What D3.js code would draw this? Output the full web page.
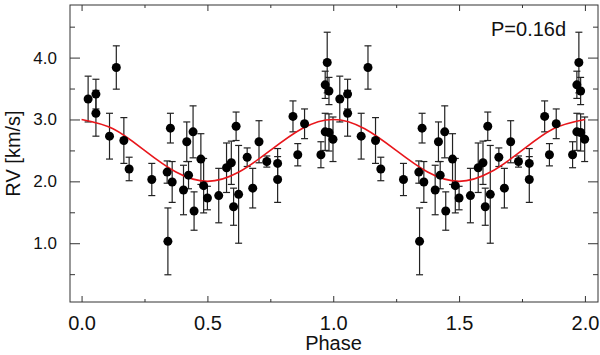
<!DOCTYPE html>
<html>
<head>
<meta charset="utf-8">
<script src="https://cdn.jsdelivr.net/npm/d3@7"></script>
<style>
  body { margin: 0; background: #fff; }
  text { font-family: "Liberation Sans", Arial, Helvetica, sans-serif; fill: #111; }
</style>
</head>
<body>
<svg width="600" height="355"></svg>
<script>

// phased radial velocities (one cycle, plotted twice)
var phase = [0.026, 0.057, 0.057, 0.111, 0.138, 0.168, 0.189, 0.279, 0.340, 0.343,
             0.353, 0.360, 0.405, 0.418, 0.425, 0.443, 0.447, 0.474, 0.485, 0.500,
             0.545, 0.576, 0.595, 0.604, 0.614, 0.624, 0.658, 0.680, 0.705, 0.736,
             0.779, 0.779, 0.840, 0.859, 0.886, 0.951, 0.968, 0.968, 0.976, 0.983,
             0.983, 0.999];
var rv = [3.33, 3.41, 3.10, 2.73, 3.84, 2.66, 2.20, 2.03, 2.15, 1.03,
          2.86, 1.99, 1.86, 2.64, 2.10, 2.80, 1.52, 2.36, 1.93, 1.73,
          1.77, 2.22, 2.30, 1.59, 2.89, 1.79, 2.39, 1.89, 2.64, 2.32,
          2.29, 2.03, 3.05, 2.43, 2.93, 2.43, 3.56, 2.80, 3.92, 3.46,
          2.79, 2.68];
var rvErr = [0.37, 0.24, 0.37, 0.37, 0.35, 0.37, 0.19, 0.26, 0.18, 0.54,
             0.24, 0.33, 0.40, 0.32, 0.22, 0.42, 0.31, 0.41, 0.44, 0.19,
             0.44, 0.40, 0.35, 0.30, 0.23, 0.79, 0.15, 0.32, 0.34, 0.09,
             0.24, 0.37, 0.25, 0.18, 0.24, 0.21, 0.22, 0.30, 0.49, 0.22,
             0.30, 0.36];

// fitted sine curve, read at steps of 0.125 in phase
var fitPhase = [0, 0.125, 0.25, 0.375, 0.5, 0.625, 0.75, 0.875, 1.0,
                1.125, 1.25, 1.375, 1.5, 1.625, 1.75, 1.875, 2.0];
var fitRv = [3.00, 2.85, 2.50, 2.15, 2.00, 2.15, 2.50, 2.85, 3.00,
             2.85, 2.50, 2.15, 2.00, 2.15, 2.50, 2.85, 3.00];

var xMajor = [0, 0.5, 1.0, 1.5, 2.0],
    xMinor = [0.25, 0.75, 1.25, 1.75],
    yMajor = [1.0, 2.0, 3.0, 4.0],
    yMinor = [0.5, 1.5, 2.5, 3.5, 4.5];

var svg = d3.select("svg"),
    margin = {top: 5, right: 2, bottom: 53, left: 70},
    width = 600 - margin.left - margin.right,
    height = 355 - margin.top - margin.bottom;

var g = svg.append("g").attr("transform", "translate(" + margin.left + "," + margin.top + ")");

var x = d3.scaleLinear().domain([-0.046, 2.052]).range([0, width]);
var y = d3.scaleLinear().domain([0.05, 4.85]).range([height, 0]);

// both cycles
var pts = [];
[0, 1].forEach(function (k) {
    phase.forEach(function (p, i) {
        pts.push({p: p + k, v: rv[i], e: rvErr[i]});
    });
});

// axes with inward ticks on all four sides
var fmt = d3.format(".1f");
function styleAxis(sel) {
    sel.select(".domain").remove();
    sel.selectAll("line").attr("stroke", "#333");
}
g.append("g").attr("transform", "translate(0," + height + ")")
    .call(d3.axisBottom(x).tickValues(xMajor).tickFormat(fmt).tickSize(-6).tickPadding(14))
    .call(styleAxis)
    .selectAll("text").attr("font-size", 20).attr("fill", "#111");
g.append("g").attr("transform", "translate(0," + height + ")")
    .call(d3.axisBottom(x).tickValues(xMinor).tickFormat("").tickSize(-3)).call(styleAxis);
g.append("g")
    .call(d3.axisTop(x).tickValues(xMajor).tickFormat("").tickSize(-6)).call(styleAxis);
g.append("g")
    .call(d3.axisTop(x).tickValues(xMinor).tickFormat("").tickSize(-3)).call(styleAxis);

g.append("g")
    .call(d3.axisLeft(y).tickValues(yMajor).tickFormat(fmt).tickSize(-10).tickPadding(13))
    .call(styleAxis)
    .selectAll("text").attr("font-size", 17).attr("fill", "#111");
g.append("g")
    .call(d3.axisLeft(y).tickValues(yMinor).tickFormat("").tickSize(-5)).call(styleAxis);
g.append("g").attr("transform", "translate(" + width + ",0)")
    .call(d3.axisRight(y).tickValues(yMajor).tickFormat("").tickSize(-10)).call(styleAxis);
g.append("g").attr("transform", "translate(" + width + ",0)")
    .call(d3.axisRight(y).tickValues(yMinor).tickFormat("").tickSize(-5)).call(styleAxis);

g.append("rect")
    .attr("width", width).attr("height", height)
    .attr("fill", "none").attr("stroke", "#333").attr("stroke-width", 1);

// error bars
var eb = g.append("g").attr("stroke", "#222").attr("stroke-width", 1.2);
eb.selectAll(".bar").data(pts).enter().append("line")
    .attr("x1", function (d) { return x(d.p); })
    .attr("x2", function (d) { return x(d.p); })
    .attr("y1", function (d) { return y(d.v - d.e); })
    .attr("y2", function (d) { return y(d.v + d.e); });
eb.selectAll(".capTop").data(pts).enter().append("line")
    .attr("x1", function (d) { return x(d.p) - 3.5; })
    .attr("x2", function (d) { return x(d.p) + 3.5; })
    .attr("y1", function (d) { return y(d.v + d.e); })
    .attr("y2", function (d) { return y(d.v + d.e); });
eb.selectAll(".capBot").data(pts).enter().append("line")
    .attr("x1", function (d) { return x(d.p) - 3.5; })
    .attr("x2", function (d) { return x(d.p) + 3.5; })
    .attr("y1", function (d) { return y(d.v - d.e); })
    .attr("y2", function (d) { return y(d.v - d.e); });

// fitted curve
var line = d3.line()
    .x(function (d, i) { return x(fitPhase[i]); })
    .y(function (d) { return y(d); })
    .curve(d3.curveNatural);
g.append("path")
    .datum(fitRv)
    .attr("d", line)
    .attr("fill", "none")
    .attr("stroke", "#e8161b")
    .attr("stroke-width", 1.6);

// points
g.append("g").selectAll("circle").data(pts).enter().append("circle")
    .attr("cx", function (d) { return x(d.p); })
    .attr("cy", function (d) { return y(d.v); })
    .attr("r", 4.5)
    .attr("fill", "#000");

// labels
g.append("text")
    .attr("x", 421).attr("y", 31)
    .attr("font-size", 20)
    .text("P=0.16d");

svg.append("text")
    .attr("x", 333.5).attr("y", 350)
    .attr("text-anchor", "middle")
    .attr("font-size", 20)
    .text("Phase");

svg.append("text")
    .attr("transform", "translate(20," + (margin.top + height / 2) + ") rotate(-90)")
    .attr("text-anchor", "middle")
    .attr("font-size", 20)
    .text("RV [km/s]");
</script>
</body>
</html>
